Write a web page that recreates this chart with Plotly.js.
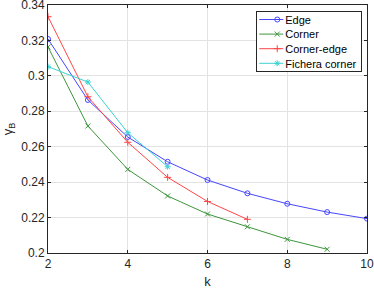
<!DOCTYPE html>
<html><head><meta charset="utf-8">
<script src="https://cdn.plot.ly/plotly-3.0.1.min.js"></script>
<style>html,body{margin:0;padding:0;background:#fff}#c{width:374px;height:289px}</style>
</head><body><div id="c"></div>
<script>
var kEdge = [2,3,4,5,6,7,8,9,10];
var edge = [0.3208,0.2864,0.2655,0.2515,0.2412,0.2337,0.2278,0.2231,0.2194];
var kCorner = [2,3,4,5,6,7,8,9];
var corner = [0.3163,0.2717,0.2472,0.2322,0.2220,0.2148,0.2077,0.2021];
var kCE = [2,3,4,5,6,7];
var cornerEdge = [0.3334,0.2882,0.2625,0.2427,0.2291,0.2190];
var kF = [2,3,4,5];
var fichera = [0.3052,0.2965,0.2679,0.2487];
var xTicks = [2,4,6,8,10];
var yTicks = [0.2,0.22,0.24,0.26,0.28,0.3,0.32,0.34];
var yTickText = ['0.2','0.22','0.24','0.26','0.28','0.3','0.32','0.34'];

function tr(x,y,name,color,sym){
  return {x:x,y:y,name:name,type:'scatter',mode:'lines+markers',
    line:{color:color,width:1},
    marker:{symbol:sym,size:5,color:color,line:{color:color,width:1}}};
}
var data = [
  tr(kEdge,edge,'Edge','rgb(70,70,255)','circle-open'),
  tr(kCorner,corner,'Corner','rgb(60,150,60)','x-thin-open'),
  tr(kCE,cornerEdge,'Corner-edge','rgb(255,70,70)','cross-thin-open'),
  tr(kF,fichera,'Fichera corner','rgb(60,210,210)','asterisk-open')
];
var FAM = 'Liberation Sans, Arial, sans-serif';
var tickFont = {family:FAM,size:12,color:'#262626'};
var titleFont = {family:FAM,size:13,color:'#262626'};
var layout = {
  width:374,height:289,
  margin:{l:48,r:7,t:5,b:36,autoexpand:false},
  paper_bgcolor:'#fff',plot_bgcolor:'#fff',
  showlegend:true,
  font:tickFont,
  xaxis:{range:[2,10],tickvals:xTicks,ticks:'inside',ticklen:3,tickcolor:'#262626',
    showline:true,linecolor:'#262626',linewidth:1,mirror:'ticks',
    showgrid:true,gridcolor:'#e3e3e3',zeroline:false,ticklabeloverflow:'allow',
    title:{text:'k',font:titleFont,standoff:7},tickfont:tickFont},
  yaxis:{range:[0.2,0.34],tickvals:yTicks,ticktext:yTickText,ticks:'inside',ticklen:3,tickcolor:'#262626',
    showline:true,linecolor:'#262626',linewidth:1,mirror:'ticks',
    showgrid:true,gridcolor:'#e3e3e3',zeroline:false,ticklabeloverflow:'allow',
    title:{text:'γ<sub>B</sub>',font:titleFont,standoff:5},tickfont:tickFont},
  legend:{x:0.98,y:0.976,xanchor:'right',yanchor:'top',bgcolor:'#fff',
    bordercolor:'#262626',borderwidth:1,font:{family:FAM,size:11,color:'#000'},
    itemwidth:30,tracegroupgap:0}
};
Plotly.newPlot('c',data,layout,{staticPlot:true}).then(function(gd){
  var leg = gd.querySelector('.legend');
  if(!leg) return;
  var items = leg.querySelectorAll('.traces');
  var rowH = 14.6, top = 8.5, maxR = 0;
  items.forEach(function(it,i){
    it.setAttribute('transform','translate(1,'+(top+i*rowH)+')');
    var t = it.querySelector('text.legendtext');
    if(t){ t.setAttribute('x','28'); var b=t.getBBox(); maxR=Math.max(maxR,b.x+b.width); }
    it.querySelectorAll('.legendlines path').forEach(function(p){ p.setAttribute('d','M2,0h24'); });
    it.querySelectorAll('.legendpoints .scatterpts path, .legendpoints path.point').forEach(function(p){
      p.setAttribute('transform','translate(14,0)');
    });
  });
  var w = maxR+5;
  var bg = leg.querySelector('rect.bg');
  if(bg){ bg.setAttribute('width', String(w)); bg.setAttribute('height', String(items.length*rowH+2)); }
  leg.setAttribute('transform','translate('+(360.5-w)+',11)');
});
</script></body></html>
